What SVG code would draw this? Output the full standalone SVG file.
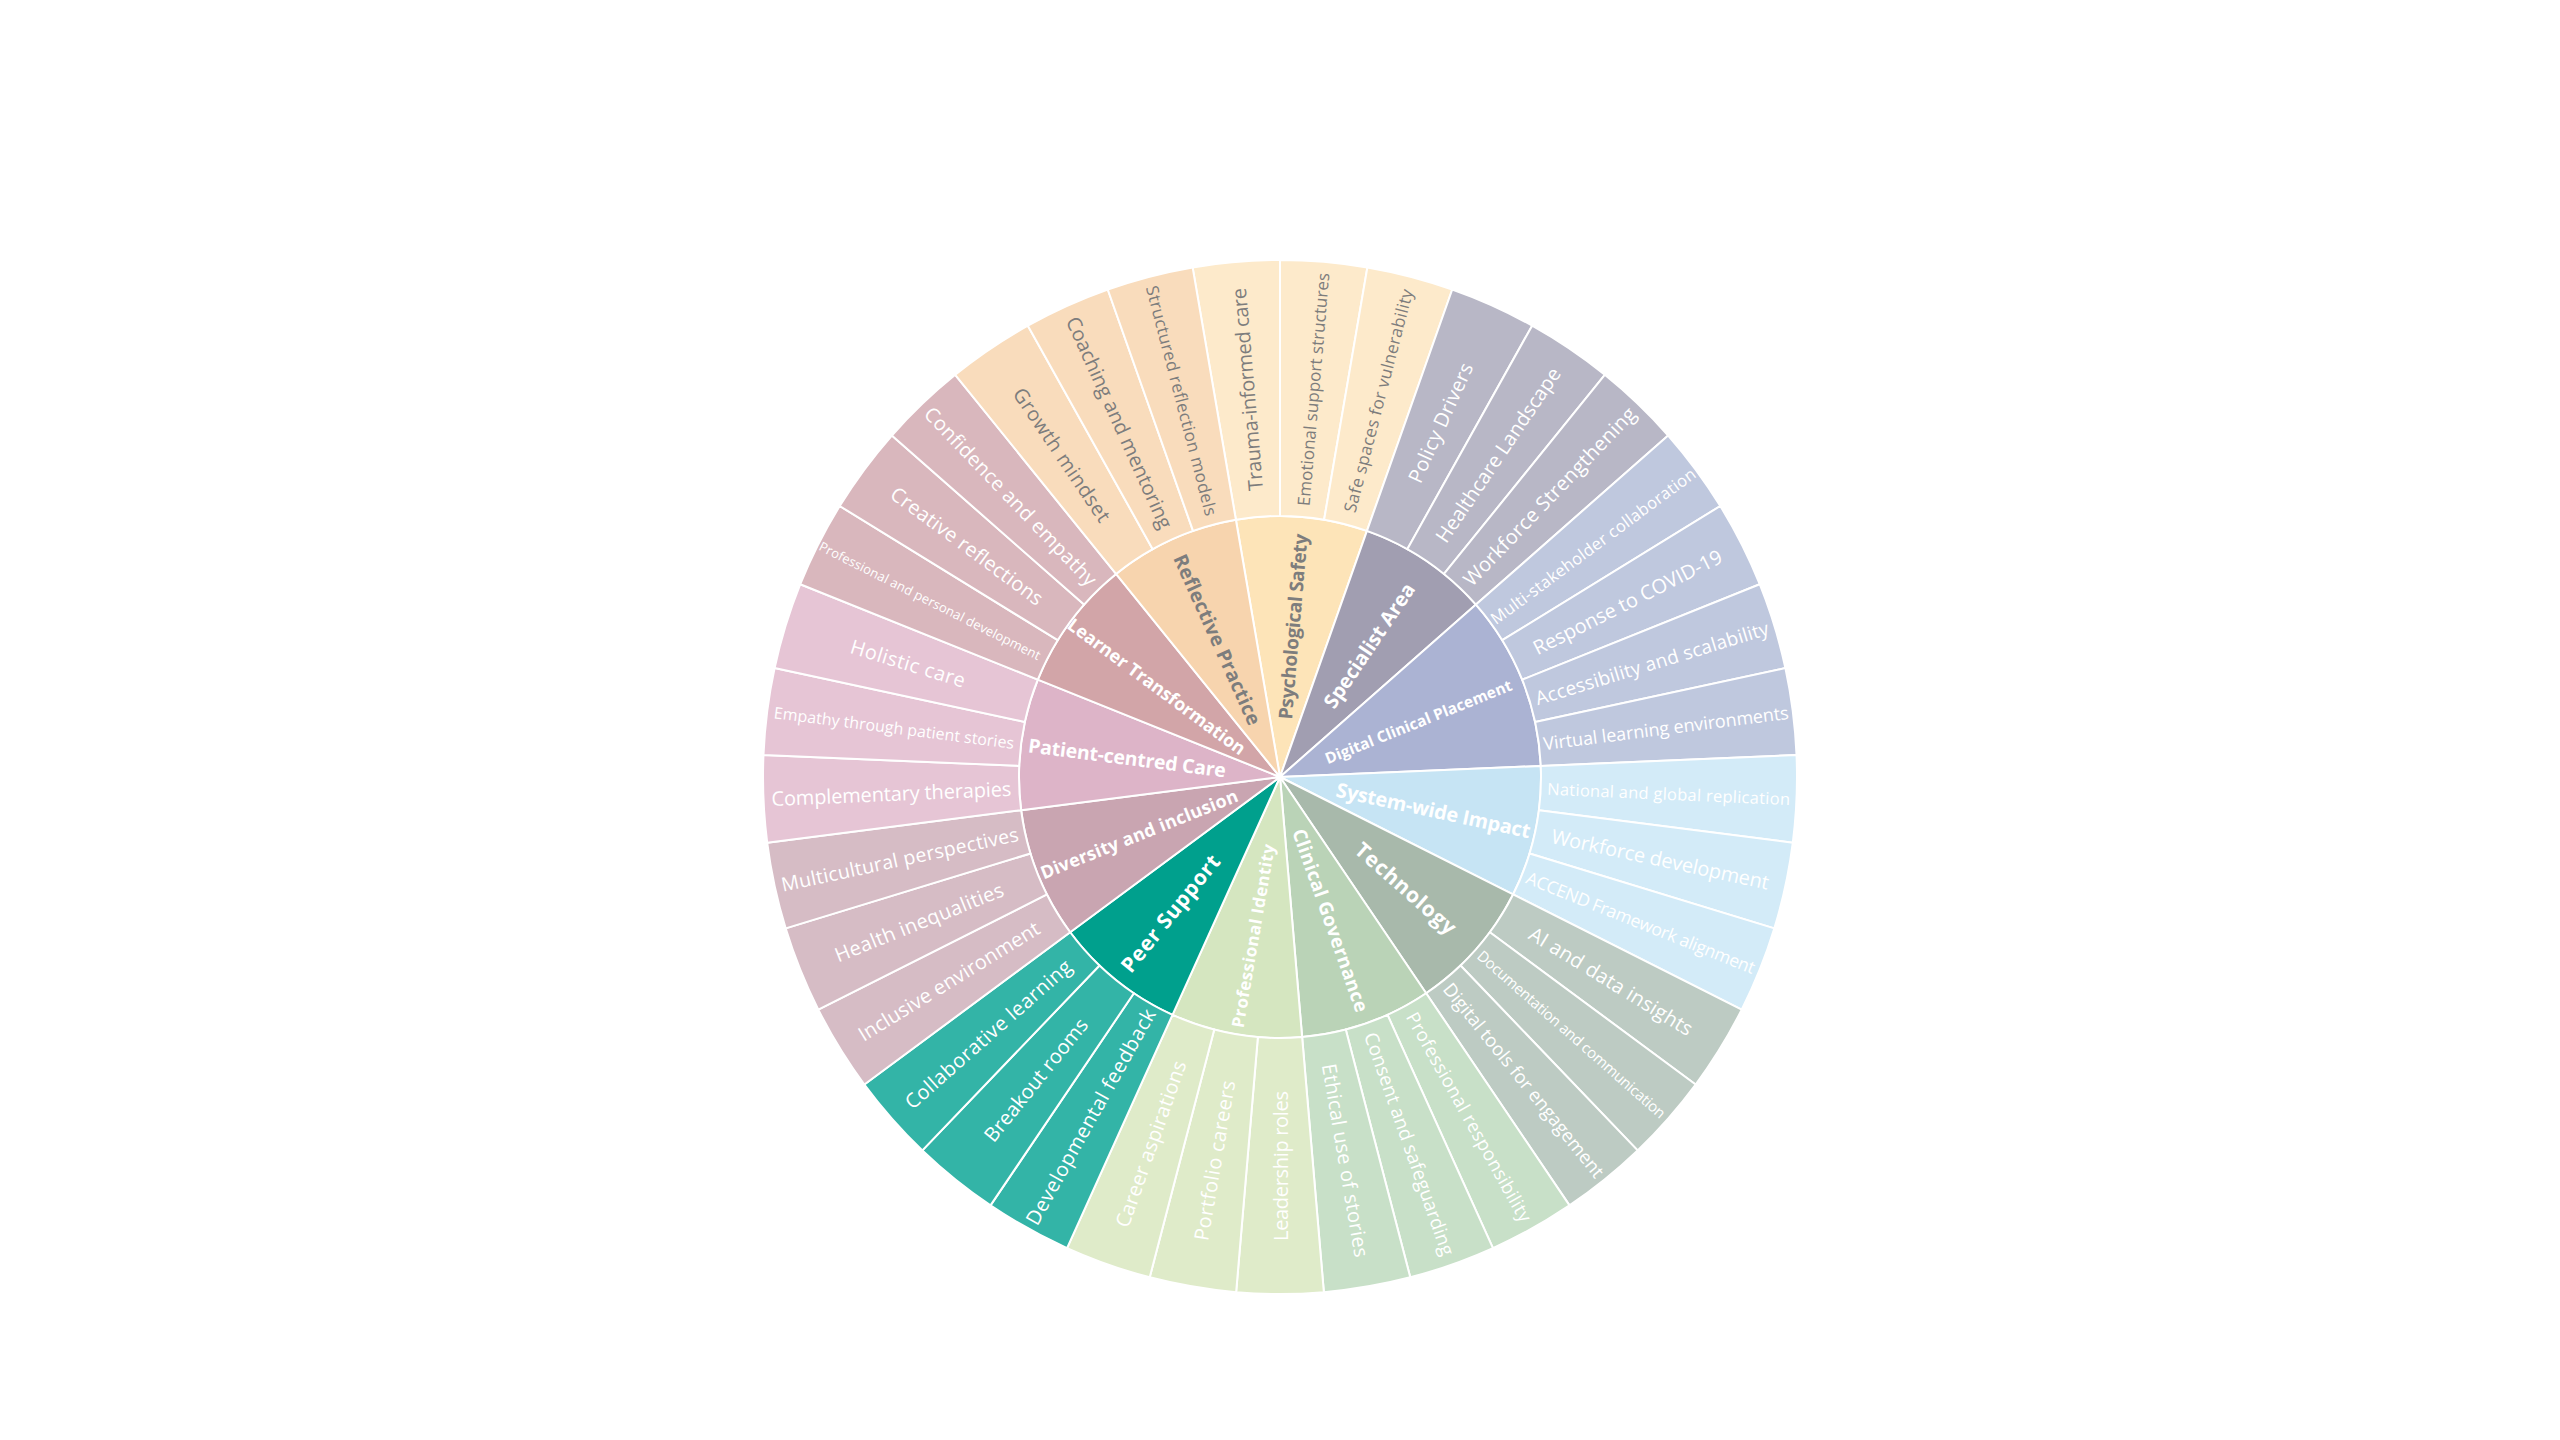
<svg xmlns="http://www.w3.org/2000/svg" width="2560" height="1440" viewBox="0 0 2560 1440">
<style>
path{stroke:#ffffff;stroke-width:2;stroke-linejoin:round}
text{font-family:"Open Sans","Noto Sans","Liberation Sans",sans-serif;text-anchor:middle;dominant-baseline:central;fill:#ffffff;font-weight:500}
.p text{font-weight:700}
.g text{fill:#7d7d7d}
.psy .in{fill:#fde4b8}.psy .lf{fill:#fdeacb}
.ref .in{fill:#f7d4ae}.ref .lf{fill:#f9dcbc}
.lrn .in{fill:#d2a5a8}.lrn .lf{fill:#d9b7bd}
.pat .in{fill:#ddb4c8}.pat .lf{fill:#e6c5d5}
.div .in{fill:#c9a5b1}.div .lf{fill:#d6bcc5}
.peer .in{fill:#00a08d}.peer .lf{fill:#33b4a7}
.pid .in{fill:#d5e6c0}.pid .lf{fill:#dfebc9}
.cg .in{fill:#bad3b7}.cg .lf{fill:#c8e0c8}
.tec .in{fill:#a8b9ab}.tec .lf{fill:#bdcbc3}
.sys .in{fill:#c6e4f4}.sys .lf{fill:#d3ebf8}
.dig .in{fill:#abb3d3}.dig .lf{fill:#bfc8de}
.spe .in{fill:#a19eb1}.spe .lf{fill:#b8b7c6}
</style>
<rect width="2560" height="1440" fill="#ffffff"/>
<g transform="translate(1280,777)">

<!-- Psychological Safety -->
<g class="psy g">
<g id="psychological-safety" class="p"><path class="in" d="M0,0L-44.11,-257.24A261,261 0 0 1 86.95,-246.09Z"/><text transform="rotate(4.86) translate(0,-151) rotate(-90)" font-size="19" textLength="186">Psychological Safety</text></g>
<g id="trauma-informed-care"><path class="lf" d="M-44.11,-257.24L-87.38,-509.56A517,517 0 0 1 0,-517L0,-261A261,261 0 0 0 -44.11,-257.24Z"/><text transform="rotate(355.14) translate(0,-389) rotate(-90)" font-size="20" textLength="203">Trauma-informed care</text></g>
<g id="emotional-support-structures"><path class="lf" d="M0,-261L0,-517A517,517 0 0 1 87.38,-509.56L44.11,-257.24A261,261 0 0 0 0,-261Z"/><text transform="rotate(4.86) translate(0,-389) rotate(-90)" font-size="17" textLength="234">Emotional support structures</text></g>
<g id="safe-spaces-for-vulnerability"><path class="lf" d="M44.11,-257.24L87.38,-509.56A517,517 0 0 1 172.24,-487.46L86.95,-246.09A261,261 0 0 0 44.11,-257.24Z"/><text transform="rotate(14.59) translate(0,-389) rotate(-90)" font-size="17" textLength="230">Safe spaces for vulnerability</text></g>
</g>

<!-- Specialist Area -->
<g class="spe">
<g id="specialist-area" class="p"><path class="in" d="M0,0L86.95,-246.09A261,261 0 0 1 195.95,-172.41Z"/><text transform="rotate(34.05) translate(0,-159) rotate(-90)" font-size="20" textLength="146">Specialist Area</text></g>
<g id="policy-drivers"><path class="lf" d="M86.95,-246.09L172.24,-487.46A517,517 0 0 1 252.14,-451.35L127.29,-227.86A261,261 0 0 0 86.95,-246.09Z"/><text transform="rotate(24.32) translate(0,-389) rotate(-90)" font-size="20" textLength="129">Policy Drivers</text></g>
<g id="healthcare-landscape"><path class="lf" d="M127.29,-227.86L252.14,-451.35A517,517 0 0 1 324.79,-402.24L163.97,-203.06A261,261 0 0 0 127.29,-227.86Z"/><text transform="rotate(34.05) translate(0,-389) rotate(-90)" font-size="20" textLength="206">Healthcare Landscape</text></g>
<g id="workforce-strengthening"><path class="lf" d="M163.97,-203.06L324.79,-402.24A517,517 0 0 1 388.14,-341.52L195.95,-172.41A261,261 0 0 0 163.97,-203.06Z"/><text transform="rotate(43.78) translate(0,-389) rotate(-90)" font-size="20" textLength="239">Workforce Strengthening</text></g>
</g>

<!-- Digital Clinical Placement -->
<g class="dig">
<g id="digital-clinical-placement" class="p"><path class="in" d="M0,0L195.95,-172.41A261,261 0 0 1 260.77,-11.08Z"/><text transform="rotate(68.11) translate(0,-149) rotate(-90)" font-size="15.5" textLength="200">Digital Clinical Placement</text></g>
<g id="multi-stakeholder-collaboration"><path class="lf" d="M195.95,-172.41L388.14,-341.52A517,517 0 0 1 440.29,-270.99L222.27,-136.8A261,261 0 0 0 195.95,-172.41Z"/><text transform="rotate(53.51) translate(0,-389) rotate(-90)" font-size="16.5" textLength="250">Multi-stakeholder collaboration</text></g>
<g id="response-to-covid-19"><path class="lf" d="M222.27,-136.8L440.29,-270.99A517,517 0 0 1 479.73,-192.76L242.19,-97.31A261,261 0 0 0 222.27,-136.8Z"/><text transform="rotate(63.24) translate(0,-389) rotate(-90)" font-size="20" textLength="209">Response to COVID-19</text></g>
<g id="accessibility-and-scalability"><path class="lf" d="M242.19,-97.31L479.73,-192.76A517,517 0 0 1 505.39,-108.92L255.14,-54.99A261,261 0 0 0 242.19,-97.31Z"/><text transform="rotate(72.97) translate(0,-389) rotate(-90)" font-size="19" textLength="243">Accessibility and scalability</text></g>
<g id="virtual-learning-environments"><path class="lf" d="M255.14,-54.99L505.39,-108.92A517,517 0 0 1 516.53,-21.94L260.77,-11.08A261,261 0 0 0 255.14,-54.99Z"/><text transform="rotate(82.70) translate(0,-389) rotate(-90)" font-size="18" textLength="247">Virtual learning environments</text></g>
</g>

<!-- System-wide Impact -->
<g class="sys">
<g id="system-wide-impact" class="p"><path class="in" d="M0,0L260.77,-11.08A261,261 0 0 1 233.07,117.47Z"/><text transform="rotate(102.16) translate(0,-157) rotate(-90)" font-size="20" textLength="198">System-wide Impact</text></g>
<g id="national-and-global-replication"><path class="lf" d="M260.77,-11.08L516.53,-21.94A517,517 0 0 1 512.81,65.66L258.89,33.15A261,261 0 0 0 260.77,-11.08Z"/><text transform="rotate(92.43) translate(0,-389) rotate(-90)" font-size="16.5" textLength="243">National and global replication</text></g>
<g id="workforce-development"><path class="lf" d="M258.89,33.15L512.81,65.66A517,517 0 0 1 494.34,151.39L249.56,76.43A261,261 0 0 0 258.89,33.15Z"/><text transform="rotate(102.16) translate(0,-389) rotate(-90)" font-size="20" textLength="222">Workforce development</text></g>
<g id="accend-framework-alignment"><path class="lf" d="M249.56,76.43L494.34,151.39A517,517 0 0 1 461.68,232.69L233.07,117.47A261,261 0 0 0 249.56,76.43Z"/><text transform="rotate(111.89) translate(0,-389) rotate(-90)" font-size="17.5" textLength="245">ACCEND Framework alignment</text></g>
</g>

<!-- Technology -->
<g class="tec">
<g id="technology" class="p"><path class="in" d="M0,0L233.07,117.47A261,261 0 0 1 146.15,216.24Z"/><text transform="rotate(131.35) translate(0,-168) rotate(-90)" font-size="21" textLength="127">Technology</text></g>
<g id="ai-and-data-insights"><path class="lf" d="M233.07,117.47L461.68,232.69A517,517 0 0 1 415.63,307.47L209.83,155.22A261,261 0 0 0 233.07,117.47Z"/><text transform="rotate(121.62) translate(0,-389) rotate(-90)" font-size="20" textLength="188">AI and data insights</text></g>
<g id="documentation-and-communication"><path class="lf" d="M209.83,155.22L415.63,307.47A517,517 0 0 1 357.61,373.37L180.53,188.49A261,261 0 0 0 209.83,155.22Z"/><text transform="rotate(131.35) translate(0,-389) rotate(-90)" font-size="15" textLength="245">Documentation and communication</text></g>
<g id="digital-tools-for-engagement"><path class="lf" d="M180.53,188.49L357.61,373.37A517,517 0 0 1 289.5,428.34L146.15,216.24A261,261 0 0 0 180.53,188.49Z"/><text transform="rotate(141.08) translate(0,-389) rotate(-90)" font-size="18.5" textLength="244">Digital tools for engagement</text></g>
</g>

<!-- Clinical Governance -->
<g class="cg">
<g id="clinical-governance" class="p"><path class="in" d="M0,0L146.15,216.24A261,261 0 0 1 22.14,260.06Z"/><text transform="rotate(160.54) translate(0,-152) rotate(-90)" font-size="19" textLength="193">Clinical Governance</text></g>
<g id="professional-responsibility"><path class="lf" d="M146.15,216.24L289.5,428.34A517,517 0 0 1 212.95,471.11L107.51,237.83A261,261 0 0 0 146.15,216.24Z"/><text transform="rotate(150.81) translate(0,-389) rotate(-90)" font-size="18.5" textLength="237">Professional responsibility</text></g>
<g id="consent-and-safeguarding"><path class="lf" d="M107.51,237.83L212.95,471.11A517,517 0 0 1 130.27,500.32L65.76,252.58A261,261 0 0 0 107.51,237.83Z"/><text transform="rotate(160.54) translate(0,-389) rotate(-90)" font-size="19" textLength="235">Consent and safeguarding</text></g>
<g id="ethical-use-of-stories"><path class="lf" d="M65.76,252.58L130.27,500.32A517,517 0 0 1 43.85,515.14L22.14,260.06A261,261 0 0 0 65.76,252.58Z"/><text transform="rotate(170.27) translate(0,-389) rotate(-90)" font-size="20" textLength="196">Ethical use of stories</text></g>
</g>

<!-- Professional Identity -->
<g class="pid">
<g id="professional-identity" class="p"><path class="in" d="M0,0L22.14,260.06A261,261 0 0 1 -107.51,237.83Z"/><text transform="rotate(189.73) translate(0,-161) rotate(90)" font-size="17" textLength="186">Professional Identity</text></g>
<g id="leadership-roles"><path class="lf" d="M22.14,260.06L43.85,515.14A517,517 0 0 1 -43.85,515.14L-22.14,260.06A261,261 0 0 0 22.14,260.06Z"/><text transform="rotate(180) translate(0,-389) rotate(90)" font-size="20" textLength="150">Leadership roles</text></g>
<g id="portfolio-careers"><path class="lf" d="M-22.14,260.06L-43.85,515.14A517,517 0 0 1 -130.27,500.32L-65.76,252.58A261,261 0 0 0 -22.14,260.06Z"/><text transform="rotate(189.73) translate(0,-389) rotate(90)" font-size="20" textLength="162">Portfolio careers</text></g>
<g id="career-aspirations"><path class="lf" d="M-65.76,252.58L-130.27,500.32A517,517 0 0 1 -212.95,471.11L-107.51,237.83A261,261 0 0 0 -65.76,252.58Z"/><text transform="rotate(199.46) translate(0,-389) rotate(90)" font-size="20" textLength="175">Career aspirations</text></g>
</g>

<!-- Peer Support -->
<g class="peer">
<g id="peer-support" class="p"><path class="in" d="M0,0L-107.51,237.83A261,261 0 0 1 -209.83,155.22Z"/><text transform="rotate(218.92) translate(0,-175) rotate(90)" font-size="21" textLength="144">Peer Support</text></g>
<g id="developmental-feedback"><path class="lf" d="M-107.51,237.83L-212.95,471.11A517,517 0 0 1 -289.5,428.34L-146.15,216.24A261,261 0 0 0 -107.51,237.83Z"/><text transform="rotate(209.19) translate(0,-389) rotate(90)" font-size="20" textLength="244">Developmental feedback</text></g>
<g id="breakout-rooms"><path class="lf" d="M-146.15,216.24L-289.5,428.34A517,517 0 0 1 -357.61,373.37L-180.53,188.49A261,261 0 0 0 -146.15,216.24Z"/><text transform="rotate(218.92) translate(0,-389) rotate(90)" font-size="20" textLength="152">Breakout rooms</text></g>
<g id="collaborative-learning"><path class="lf" d="M-180.53,188.49L-357.61,373.37A517,517 0 0 1 -415.63,307.47L-209.83,155.22A261,261 0 0 0 -180.53,188.49Z"/><text transform="rotate(228.65) translate(0,-389) rotate(90)" font-size="20" textLength="214">Collaborative learning</text></g>
</g>

<!-- Diversity and inclusion -->
<g class="div">
<g id="diversity-and-inclusion" class="p"><path class="in" d="M0,0L-209.83,155.22A261,261 0 0 1 -258.89,33.15Z"/><text transform="rotate(248.11) translate(0,-152) rotate(90)" font-size="18" textLength="211">Diversity and inclusion</text></g>
<g id="inclusive-environment"><path class="lf" d="M-209.83,155.22L-415.63,307.47A517,517 0 0 1 -461.68,232.69L-233.07,117.47A261,261 0 0 0 -209.83,155.22Z"/><text transform="rotate(238.38) translate(0,-389) rotate(90)" font-size="20" textLength="209">Inclusive environment</text></g>
<g id="health-inequalities"><path class="lf" d="M-233.07,117.47L-461.68,232.69A517,517 0 0 1 -494.34,151.39L-249.56,76.43A261,261 0 0 0 -233.07,117.47Z"/><text transform="rotate(248.11) translate(0,-389) rotate(90)" font-size="20" textLength="180">Health inequalities</text></g>
<g id="multicultural-perspectives"><path class="lf" d="M-249.56,76.43L-494.34,151.39A517,517 0 0 1 -512.81,65.66L-258.89,33.15A261,261 0 0 0 -249.56,76.43Z"/><text transform="rotate(257.84) translate(0,-389) rotate(90)" font-size="19.5" textLength="242">Multicultural perspectives</text></g>
</g>

<!-- Patient-centred Care -->
<g class="pat">
<g id="patient-centred-care" class="p"><path class="in" d="M0,0L-258.89,33.15A261,261 0 0 1 -242.19,-97.31Z"/><text transform="rotate(277.30) translate(0,-154) rotate(90)" font-size="19.5" textLength="199">Patient-centred Care</text></g>
<g id="complementary-therapies"><path class="lf" d="M-258.89,33.15L-512.81,65.66A517,517 0 0 1 -516.53,-21.94L-260.77,-11.08A261,261 0 0 0 -258.89,33.15Z"/><text transform="rotate(267.57) translate(0,-389) rotate(90)" font-size="20" textLength="240">Complementary therapies</text></g>
<g id="empathy-through-patient-stories"><path class="lf" d="M-260.77,-11.08L-516.53,-21.94A517,517 0 0 1 -505.39,-108.92L-255.14,-54.99A261,261 0 0 0 -260.77,-11.08Z"/><text transform="rotate(277.30) translate(0,-389) rotate(90)" font-size="16" textLength="242">Empathy through patient stories</text></g>
<g id="holistic-care"><path class="lf" d="M-255.14,-54.99L-505.39,-108.92A517,517 0 0 1 -479.73,-192.76L-242.19,-97.31A261,261 0 0 0 -255.14,-54.99Z"/><text transform="rotate(287.03) translate(0,-389) rotate(90)" font-size="20" textLength="119">Holistic care</text></g>
</g>

<!-- Learner Transformation -->
<g class="lrn">
<g id="learner-transformation" class="p"><path class="in" d="M0,0L-242.19,-97.31A261,261 0 0 1 -163.97,-203.06Z"/><text transform="rotate(306.49) translate(0,-153) rotate(90)" font-size="18" textLength="216">Learner Transformation</text></g>
<g id="professional-and-personal-development"><path class="lf" d="M-242.19,-97.31L-479.73,-192.76A517,517 0 0 1 -440.29,-270.99L-222.27,-136.8A261,261 0 0 0 -242.19,-97.31Z"/><text transform="rotate(296.76) translate(0,-392) rotate(90)" font-size="13" textLength="246">Professional and personal development</text></g>
<g id="creative-reflections"><path class="lf" d="M-222.27,-136.8L-440.29,-270.99A517,517 0 0 1 -388.14,-341.52L-195.95,-172.41A261,261 0 0 0 -222.27,-136.8Z"/><text transform="rotate(306.49) translate(0,-389) rotate(90)" font-size="20" textLength="184">Creative reflections</text></g>
<g id="confidence-and-empathy"><path class="lf" d="M-195.95,-172.41L-388.14,-341.52A517,517 0 0 1 -324.79,-402.24L-163.97,-203.06A261,261 0 0 0 -195.95,-172.41Z"/><text transform="rotate(316.22) translate(0,-389) rotate(90)" font-size="20" textLength="239">Confidence and empathy</text></g>
</g>

<!-- Reflective Practice -->
<g class="ref g">
<g id="reflective-practice" class="p"><path class="in" d="M0,0L-163.97,-203.06A261,261 0 0 1 -44.11,-257.24Z"/><text transform="rotate(335.68) translate(0,-151) rotate(90)" font-size="19.5" textLength="185">Reflective Practice</text></g>
<g id="growth-mindset"><path class="lf" d="M-163.97,-203.06L-324.79,-402.24A517,517 0 0 1 -252.14,-451.35L-127.29,-227.86A261,261 0 0 0 -163.97,-203.06Z"/><text transform="rotate(325.95) translate(0,-389) rotate(90)" font-size="20" textLength="157">Growth mindset</text></g>
<g id="coaching-and-mentoring"><path class="lf" d="M-127.29,-227.86L-252.14,-451.35A517,517 0 0 1 -172.24,-487.46L-86.95,-246.09A261,261 0 0 0 -127.29,-227.86Z"/><text transform="rotate(335.68) translate(0,-389) rotate(90)" font-size="20" textLength="230">Coaching and mentoring</text></g>
<g id="structured-reflection-models"><path class="lf" d="M-86.95,-246.09L-172.24,-487.46A517,517 0 0 1 -87.38,-509.56L-44.11,-257.24A261,261 0 0 0 -86.95,-246.09Z"/><text transform="rotate(345.41) translate(0,-389) rotate(90)" font-size="17" textLength="237">Structured reflection models</text></g>
</g>

</g>
</svg>
